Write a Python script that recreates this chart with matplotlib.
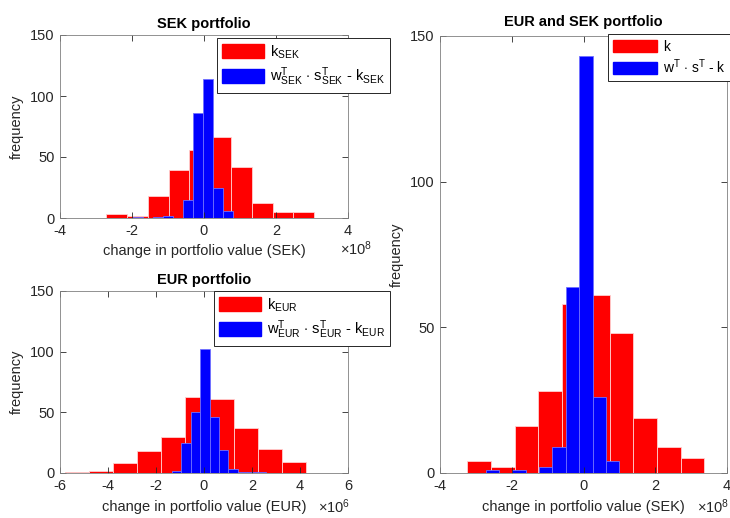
import numpy as np
import matplotlib
matplotlib.use("Agg")
import matplotlib.pyplot as plt
from matplotlib.patches import Patch

plt.rcParams["font.family"] = ["Liberation Sans", "DejaVu Sans"]
plt.rcParams["mathtext.fontset"] = "custom"
plt.rcParams["mathtext.rm"] = "Liberation Sans"
plt.rcParams["mathtext.it"] = "Liberation Sans"
plt.rcParams["axes.unicode_minus"] = False

# ---------------------------------------------------------------------
# histogram counts (10 bins each) and bin ranges
# ---------------------------------------------------------------------

# SEK portfolio, x in units of 1e8 SEK
sek_k_range = (-2.72, 3.06)
sek_k_counts = [3, 2, 18, 39, 56, 66, 42, 12, 5, 5]
sek_h_range = (-1.96, 0.81)
sek_h_counts = [1, 0, 1, 2, 0, 15, 86, 114, 25, 6]

# EUR portfolio, x in units of 1e6 EUR
eur_k_range = (-5.79, 4.24)
eur_k_counts = [1, 2, 8, 18, 30, 63, 61, 37, 20, 9]
eur_h_range = (-1.35, 2.60)
eur_h_counts = [2, 25, 50, 102, 46, 19, 3, 1, 1, 1]

# EUR and SEK portfolio, x in units of 1e8 SEK
tot_k_range = (-3.24, 3.37)
tot_k_counts = [4, 2, 16, 28, 58, 61, 48, 19, 9, 5]
tot_h_range = (-2.73, 1.00)
tot_h_counts = [1, 0, 1, 0, 2, 9, 64, 143, 26, 4]

AX_GRAY = "#262626"
TXT = "#262626"


def draw_hist(ax, rng, counts, face, edge):
    edges = np.linspace(rng[0], rng[1], len(counts) + 1)
    ax.bar(edges[:-1], counts, width=np.diff(edges), align="edge",
           color=face, edgecolor=edge, linewidth=0.6)


def style_axes(ax, xlim, xticks):
    ax.set_xlim(*xlim)
    ax.set_ylim(0, 150)
    ax.set_xticks(xticks)
    ax.set_yticks([0, 50, 100, 150])
    ax.tick_params(direction="in", length=4, width=0.6, top=True,
                   right=True, labelsize=10.5, colors=AX_GRAY,
                   labelcolor=TXT, pad=4)
    for s in ax.spines.values():
        s.set_color("#808080")
        s.set_linewidth(0.6)
    ax.set_ylabel("frequency", fontsize=10.5, color=TXT, labelpad=4)


def add_legend(ax, labels, anchor, loc, fs, hl, hh=1.1, sp=0.35):
    handles = [Patch(facecolor="red", edgecolor="red"),
               Patch(facecolor="blue", edgecolor="blue")]
    leg = ax.legend(handles, labels, loc=loc, bbox_to_anchor=anchor,
                    bbox_transform=fig.transFigure, fontsize=fs,
                    fancybox=False, framealpha=1, edgecolor="#262626",
                    handlelength=hl, handleheight=hh, borderpad=0.35,
                    labelspacing=sp, handletextpad=0.4,
                    borderaxespad=0)
    leg.get_frame().set_linewidth(0.7)
    return leg


W, H = 730, 518
fig = plt.figure(figsize=(W / 100, H / 100), dpi=100)

ax1 = fig.add_axes([60 / W, 1 - 218 / H, 288 / W, 183 / H])
ax2 = fig.add_axes([60 / W, 1 - 473 / H, 288 / W, 182 / H])
ax3 = fig.add_axes([440 / W, 1 - 473 / H, 287 / W, 437 / H])

# SEK portfolio
draw_hist(ax1, sek_k_range, sek_k_counts, "red", "#ffd0d0")
draw_hist(ax1, sek_h_range, sek_h_counts, "blue", "#7070ff")
style_axes(ax1, (-4, 4), [-4, -2, 0, 2, 4])
ax1.set_title("SEK portfolio", fontsize=10.5, fontweight="bold",
              color="black", pad=5)
ax1.set_xlabel("change in portfolio value (SEK)", fontsize=10.5,
               color=TXT, labelpad=5)
fig.text(372 / W, 1 - 249 / H, r"$\times10^8$", fontsize=10.5,
         color=TXT, ha="right", va="center")
add_legend(ax1, [r"$\mathrm{k_{SEK}}$",
                 r"$\mathrm{w^T_{SEK}}$ $\cdot$ $\mathrm{s^T_{SEK}}$ - $\mathrm{k_{SEK}}$"],
           (390 / W, 1 - 38 / H), "upper right", 10.5, 2.9)

# EUR portfolio
draw_hist(ax2, eur_k_range, eur_k_counts, "red", "#ffd0d0")
draw_hist(ax2, eur_h_range, eur_h_counts, "blue", "#7070ff")
style_axes(ax2, (-6, 6), [-6, -4, -2, 0, 2, 4, 6])
ax2.set_title("EUR portfolio", fontsize=10.5, fontweight="bold",
              color="black", pad=5)
ax2.set_xlabel("change in portfolio value (EUR)", fontsize=10.5,
               color=TXT, labelpad=5)
fig.text(350 / W, 1 - 507 / H, r"$\times10^6$", fontsize=10.5,
         color=TXT, ha="right", va="center")
add_legend(ax2, [r"$\mathrm{k_{EUR}}$",
                 r"$\mathrm{w^T_{EUR}}$ $\cdot$ $\mathrm{s^T_{EUR}}$ - $\mathrm{k_{EUR}}$"],
           (390 / W, 1 - 291 / H), "upper right", 10.5, 2.9)

# EUR and SEK portfolio
draw_hist(ax3, tot_k_range, tot_k_counts, "red", "#ffd0d0")
draw_hist(ax3, tot_h_range, tot_h_counts, "blue", "#7070ff")
style_axes(ax3, (-4, 4), [-4, -2, 0, 2, 4])
ax3.set_title("EUR and SEK portfolio", fontsize=10.5, fontweight="bold",
              color="black", pad=7)
ax3.set_xlabel("change in portfolio value (SEK)", fontsize=10.5,
               color=TXT, labelpad=5)
fig.text(729 / W, 1 - 507 / H, r"$\times10^8$", fontsize=10.5,
         color=TXT, ha="right", va="center")
add_legend(ax3, [r"$\mathrm{k}$",
                 r"$\mathrm{w^T}$ $\cdot$ $\mathrm{s^T}$ - $\mathrm{k}$"],
           (608 / W, 1 - 34 / H), "upper left", 10, 3.2, hh=0.9, sp=0.25)

fig.savefig("out.png", dpi=100, facecolor="white")
